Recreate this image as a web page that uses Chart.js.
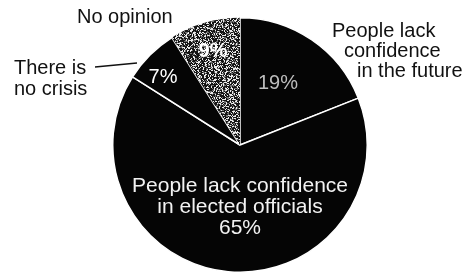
<!DOCTYPE html>
<html lang="en">
<head>
<meta charset="UTF-8">
<title>Crisis pie</title>
<script src="https://cdn.jsdelivr.net/npm/chart.js"></script>
<style>
  html, body { margin: 0; padding: 0; background: #fff; }
  #wrap { width: 468px; height: 275px; }
</style>
</head>
<body>
<div id="wrap"><canvas id="pie"></canvas></div>
<script>
// data, clockwise from 12 o'clock
const categories = ["People lack confidence in the future", "People lack confidence in elected officials", "There is no crisis", "No opinion"];
const values = [19, 65, 7, 9];
const valueLabels = ["19%", "65%", "7%", "9%"];

// speckled grey texture for the "No opinion" slice (hash mixed, so no visible stripes)
function speckle() {
    const n = 64;
    const c = document.createElement("canvas");
    c.width = n; c.height = n;
    const g = c.getContext("2d");
    const img = g.createImageData(n, n);
    for (let y = 0; y < n; y++) {
        for (let x = 0; x < n; x++) {
            let h = (x * 374761393 + y * 668265263) | 0;
            h = Math.imul(h ^ (h >>> 13), 1274126177);
            h = (h ^ (h >>> 16)) >>> 0;
            const t = h % 100;
            const v = t < 52 ? 20 : (t < 72 ? 110 : 235);
            const i = (y * n + x) * 4;
            img.data[i] = img.data[i + 1] = img.data[i + 2] = v;
            img.data[i + 3] = 255;
        }
    }
    g.putImageData(img, 0, 0);
    return g.createPattern(c, "repeat");
}

const labelPlugin = {
    id: "pieLabels",
    afterDraw(chart) {
        const arc = chart.getDatasetMeta(0).data[0];
        const cx = arc.x, cy = arc.y;
        const ctx = chart.ctx;
        ctx.save();
        ctx.textBaseline = "alphabetic";

        // outside labels
        ctx.fillStyle = "#111";
        ctx.font = "20px 'Liberation Sans', Arial, sans-serif";
        ctx.textAlign = "left";
        ctx.fillText("People lack", cx + 92, cy - 108);
        ctx.fillText("confidence", cx + 104, cy - 88);
        ctx.fillText("in the future", cx + 117, cy - 68);
        ctx.fillText("No opinion", cx - 163, cy - 122);
        ctx.fillText("There is", cx - 226, cy - 71);
        ctx.fillText("no crisis", cx - 226, cy - 50);

        // leader for "There is no crisis"
        ctx.strokeStyle = "#111";
        ctx.lineWidth = 1.5;
        ctx.beginPath();
        ctx.moveTo(cx - 145, cy - 78);
        ctx.lineTo(cx - 103, cy - 82);
        ctx.stroke();

        // inside labels
        ctx.textAlign = "center";
        ctx.font = "21px 'Liberation Sans', Arial, sans-serif";
        ctx.fillStyle = "#f2f2f2";
        ctx.fillText("People lack confidence", cx, cy + 47);
        ctx.fillText("in elected officials", cx, cy + 68);
        ctx.fillText(valueLabels[1], cx, cy + 89);
        ctx.font = "20px 'Liberation Sans', Arial, sans-serif";
        ctx.fillStyle = "#ffffff";
        ctx.fillText(valueLabels[2], cx - 77, cy - 62);
        ctx.font = "bold 20px 'Liberation Sans', Arial, sans-serif";
        ctx.fillText(valueLabels[3], cx - 27, cy - 88);
        ctx.font = "20px 'Liberation Sans', Arial, sans-serif";
        ctx.fillStyle = "#bdbdbd";
        ctx.fillText(valueLabels[0], cx + 38, cy - 56);
        ctx.restore();
    }
};

const ctx = document.getElementById("pie").getContext("2d");
new Chart(ctx, {
    type: "pie",
    data: {
        labels: categories,
        datasets: [{
            data: values,
            backgroundColor: ["#050505", "#050505", "#050505", speckle()],
            borderColor: "#ffffff",
            borderWidth: [1.5, 1.5, 1.5, 0],
            hoverOffset: 0
        }]
    },
    options: {
        responsive: true,
        maintainAspectRatio: false,
        animation: false,
        rotation: 0,
        layout: { padding: { left: 112, right: 100, top: 16, bottom: 1 } },
        plugins: {
            legend: { display: false },
            tooltip: { enabled: false },
            title: { display: false }
        }
    },
    plugins: [labelPlugin]
});
</script>
</body>
</html>
